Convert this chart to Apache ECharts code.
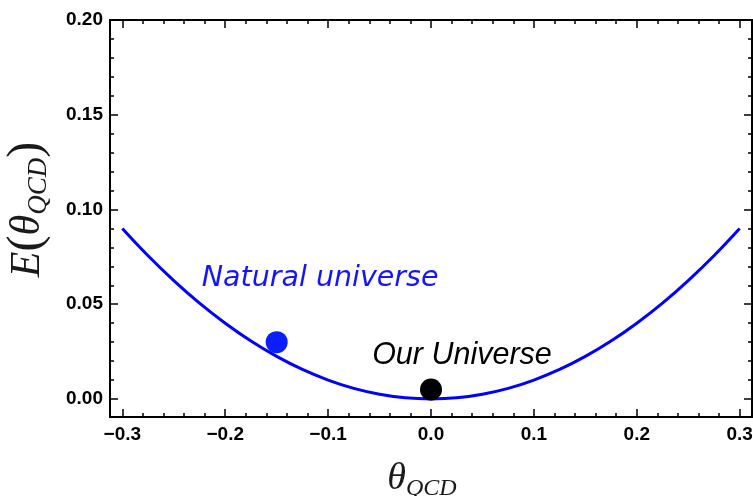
<!DOCTYPE html>
<html>
<head>
<meta charset="utf-8">
<script src="https://cdn.jsdelivr.net/npm/echarts@6/dist/echarts.min.js"></script>
<style>
  html, body { margin: 0; padding: 0; background: #fff; }
  #chart { width: 753px; height: 496px; }
</style>
</head>
<body>
<div id="chart"></div>
<script>
// Vacuum energy curve E(theta) sampled along theta_QCD
const thetaVals  = [-0.3, -0.275, -0.25, -0.225, -0.2, -0.175, -0.15, -0.125, -0.1, -0.075, -0.05, -0.025, 0,
                    0.025, 0.05, 0.075, 0.1, 0.125, 0.15, 0.175, 0.2, 0.225, 0.25, 0.275, 0.3];
const energyVals = [0.090, 0.0756, 0.0625, 0.0506, 0.040, 0.0306, 0.0225, 0.0156, 0.010, 0.0056, 0.0025, 0.0006, 0,
                    0.0006, 0.0025, 0.0056, 0.010, 0.0156, 0.0225, 0.0306, 0.040, 0.0506, 0.0625, 0.0756, 0.090];

// Highlighted states
const naturalPoint = [-0.15, 0.03];
const ourPoint     = [0, 0.005];

// Tick labels
const xMajorTicks = [-0.3, -0.2, -0.1, 0, 0.1, 0.2, 0.3];
const yMajorTicks = [0, 0.05, 0.10, 0.15, 0.20];

// Minor ticks: x every 0.02, y every 0.01
const xMinorTicks = [];
for (let i = -15; i <= 15; i++) xMinorTicks.push(+(i * 0.02).toFixed(2));
const yMinorTicks = [];
for (let i = 0; i <= 20; i++) yMinorTicks.push(+(i * 0.01).toFixed(2));

const X_MIN = -0.312, X_MAX = 0.312, Y_MIN = -0.0095, Y_MAX = 0.2;

const tickFont = {
  fontFamily: '"Liberation Sans", Arial, sans-serif',
  fontWeight: 'bold',
  fontSize: 19,
  color: '#000'
};

function fmtX(v) {
  const s = Math.abs(v).toFixed(1);
  return v < -1e-9 ? '\u2212' + s : s;
}
function fmtY(v) {
  return v.toFixed(2);
}

function xAxisCfg(pos, ticks, len, showLabel, extra) {
  return Object.assign({
    type: 'value', min: X_MIN, max: X_MAX, position: pos,
    axisLine: { show: true, onZero: false, lineStyle: { color: '#000', width: 2 } },
    axisTick: { show: true, inside: true, length: len, customValues: ticks,
                lineStyle: { color: '#000', width: 1.5 } },
    axisLabel: Object.assign({ show: showLabel, customValues: ticks, margin: 8, formatter: fmtX }, tickFont),
    splitLine: { show: false }
  }, extra || {});
}
function yAxisCfg(pos, ticks, len, showLabel, extra) {
  return Object.assign({
    type: 'value', min: Y_MIN, max: Y_MAX, position: pos,
    axisLine: { show: true, onZero: false, lineStyle: { color: '#000', width: 2 } },
    axisTick: { show: true, inside: true, length: len, customValues: ticks,
                lineStyle: { color: '#000', width: 1.5 } },
    axisLabel: Object.assign({ show: showLabel, customValues: ticks, margin: 7, formatter: fmtY }, tickFont),
    splitLine: { show: false }
  }, extra || {});
}

const serif = '"Liberation Serif", "Times New Roman", serif';
const titleColor = '#1a1a1a';

const chart = echarts.init(document.getElementById('chart'), null, { renderer: 'canvas' });
chart.setOption({
  animation: false,
  backgroundColor: '#fff',
  grid: { left: 110, right: 1, top: 20, bottom: 79, containLabel: false, outerBoundsMode: 'none' },
  xAxis: [
    xAxisCfg('bottom', xMajorTicks, 8, true, {
      name: '{t|\u03b8}{s|QCD}',
      nameLocation: 'middle',
      nameGap: 40,
      nameMoveOverlap: false,
      nameTextStyle: {
        padding: [0, 18, 0, 0],
        rich: {
          t: { fontFamily: serif, fontStyle: 'italic', fontSize: 38, color: titleColor },
          s: { fontFamily: serif, fontStyle: 'italic', fontSize: 24, color: titleColor,
               padding: [20, 0, 0, 0] }
        }
      }
    }),
    xAxisCfg('bottom', xMinorTicks, 4, false),
    xAxisCfg('top', xMajorTicks, 8, false),
    xAxisCfg('top', xMinorTicks, 4, false)
  ],
  yAxis: [
    yAxisCfg('left', yMajorTicks, 8, true, {
      name: '{e|E}{p|(}{t|\u03b8}{s|QCD}{p|)}',
      nameLocation: 'middle',
      nameGap: 58,
      nameMoveOverlap: false,
      nameTextStyle: {
        padding: [0, 0, 0, 18],
        rich: {
          e: { fontFamily: serif, fontStyle: 'italic', fontSize: 42, color: titleColor },
          p: { fontFamily: serif, fontSize: 48, color: titleColor },
          t: { fontFamily: serif, fontStyle: 'italic', fontSize: 42, color: titleColor },
          s: { fontFamily: serif, fontStyle: 'italic', fontSize: 27, color: titleColor,
               padding: [22, 0, 0, 0] }
        }
      }
    }),
    yAxisCfg('left', yMinorTicks, 4, false),
    yAxisCfg('right', yMajorTicks, 8, false),
    yAxisCfg('right', yMinorTicks, 4, false)
  ],
  series: [
    {
      type: 'line',
      data: thetaVals.map((t, i) => [t, energyVals[i]]),
      smooth: 0.4,
      showSymbol: false,
      lineStyle: { color: '#0000ff', width: 3 },
      z: 2
    },
    {
      type: 'scatter',
      data: [naturalPoint],
      symbolSize: 22,
      itemStyle: { color: '#0a1eff', opacity: 1 },
      z: 3
    },
    {
      type: 'scatter',
      data: [ourPoint],
      symbolSize: 22,
      itemStyle: { color: '#000', opacity: 1 },
      z: 3
    },
    {
      type: 'scatter',
      data: [[-0.1078, 0.0634]],
      symbolSize: 0,
      itemStyle: { opacity: 1 },
      label: {
        show: true, position: 'inside', formatter: 'Natural universe',
        fontFamily: '"DejaVu Sans", Verdana, sans-serif', fontStyle: 'italic',
        fontSize: 28.5, color: '#1414ff'
      },
      z: 4
    },
    {
      type: 'scatter',
      data: [[0.0301, 0.0228]],
      symbolSize: 0,
      itemStyle: { opacity: 1 },
      label: {
        show: true, position: 'inside', formatter: 'Our Universe',
        fontFamily: '"Liberation Sans", Arial, sans-serif', fontStyle: 'italic',
        fontSize: 30.5, color: '#000'
      },
      z: 4
    }
  ]
});
</script>
</body>
</html>
